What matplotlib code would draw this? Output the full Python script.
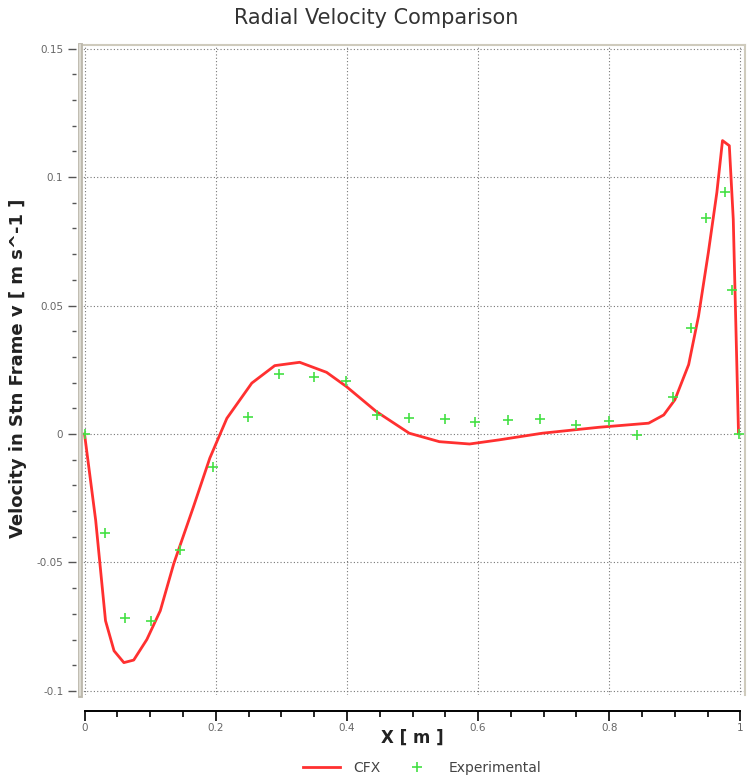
import matplotlib

matplotlib.use("Agg")
import matplotlib.pyplot as plt
from matplotlib.lines import Line2D
from matplotlib.ticker import MultipleLocator

# CFX solution
cfx_x = [0.0, 0.017, 0.032, 0.045, 0.060, 0.075, 0.095, 0.1155, 0.136, 0.166,
         0.191, 0.217, 0.255, 0.290, 0.328, 0.369, 0.399, 0.445, 0.495, 0.541,
         0.587, 0.632, 0.698, 0.784, 0.860, 0.883, 0.900, 0.921, 0.936, 0.951,
         0.964, 0.9726, 0.983, 0.989, 0.997]
cfx_v = [0.0, -0.0336, -0.0727, -0.0844, -0.0890, -0.0880, -0.0800, -0.0688,
         -0.0505, -0.0284, -0.0094, 0.0061, 0.0198, 0.0266, 0.0279, 0.0240,
         0.0185, 0.0087, 0.0003, -0.0030, -0.0039, -0.0023, 0.0003, 0.0026,
         0.0042, 0.0074, 0.0133, 0.0270, 0.0458, 0.0706, 0.0940, 0.1142,
         0.1122, 0.0836, 0.0003]

# Experimental points
exp_x = [0.0, 0.031, 0.061, 0.102, 0.146, 0.196, 0.249, 0.297, 0.350, 0.398,
         0.446, 0.494, 0.549, 0.595, 0.646, 0.694, 0.749, 0.800, 0.843, 0.897,
         0.925, 0.947, 0.976, 0.987, 0.998]
exp_v = [0.0, -0.0384, -0.0716, -0.0727, -0.0450, -0.0130, 0.0065, 0.0233,
         0.0221, 0.0208, 0.0074, 0.0064, 0.0060, 0.0047, 0.0053, 0.0060,
         0.0034, 0.0049, -0.0003, 0.0143, 0.0413, 0.0841, 0.0943, 0.0559, 0.0]

x_ticks = [0, 0.2, 0.4, 0.6, 0.8, 1]
x_ticklabels = ["0", "0.2", "0.4", "0.6", "0.8", "1"]
y_ticks = [-0.1, -0.05, 0, 0.05, 0.1, 0.15]
y_ticklabels = ["-0.1", "-0.05", "0", "0.05", "0.1", "0.15"]

fig = plt.figure(figsize=(7.5, 7.83), dpi=100)
ax = fig.add_axes([80 / 750, 1 - 695 / 783, 665 / 750, 650 / 783])

ax.plot(cfx_x, cfx_v, color="#ff3030", lw=2.0, label="CFX", zorder=3)
ax.plot(exp_x, exp_v, ls="none", marker="+", ms=6.5, mew=1.2,
        color="#44e044", label="Experimental", zorder=4)

ax.set_xlim(-0.0069, 1.0069)
ax.set_ylim(-0.1016, 0.1514)

ax.set_xticks(x_ticks, x_ticklabels)
ax.set_yticks(y_ticks, y_ticklabels)
ax.xaxis.set_minor_locator(MultipleLocator(0.05))
ax.yaxis.set_minor_locator(MultipleLocator(0.01))

ax.grid(True, which="major", color="#777777", ls=(0, (1, 2)), lw=0.8)

frame_col = "#cfcbbd"
ax.spines["top"].set_color(frame_col)
ax.spines["top"].set_linewidth(1.5)
ax.spines["right"].set_color(frame_col)
ax.spines["right"].set_linewidth(1.5)
ax.spines["left"].set_position(("outward", 3))
ax.spines["left"].set_visible(False)
ax.spines["bottom"].set_position(("outward", 11.5))
ax.spines["bottom"].set_bounds(0, 1)
ax.spines["bottom"].set_linewidth(1.4)

# grey double bar on the left edge
ax.add_line(Line2D([0, 0], [0, 1], transform=ax.transAxes, color="#bdb9ad",
                   lw=3.5, clip_on=False, zorder=5))
ax.add_line(Line2D([0, 0], [0, 1], transform=ax.transAxes, color="#e4e2da",
                   lw=1.2, clip_on=False, zorder=6))

ax.tick_params(axis="y", which="major", direction="out", length=6, width=1,
               color="#555555", labelsize=7.5, labelcolor="#666666", pad=3)
ax.tick_params(axis="y", which="minor", direction="out", length=3, width=1,
               color="#555555")
ax.tick_params(axis="x", which="major", direction="out", length=7, width=1.2,
               labelsize=7.5, labelcolor="#666666", pad=2)
ax.tick_params(axis="x", which="minor", direction="out", length=4, width=1.2)

fig.text(376 / 750, 1 - 18 / 783, "Radial Velocity Comparison", ha="center",
         va="center", fontsize=15, color="#333333")
fig.text(412 / 750, 1 - 738 / 783, "X [ m ]", ha="center", va="center",
         fontsize=12, fontweight="bold", color="#222222")
fig.text(18 / 750, 1 - 368 / 783, "Velocity in Stn Frame v [ m s^-1 ]",
         rotation=90, ha="center", va="center", fontsize=13,
         fontweight="bold", color="#222222")

fig.legend(loc="center", bbox_to_anchor=(422 / 750, 1 - 768 / 783), ncol=2,
           frameon=False, fontsize=10, handlelength=2.7, columnspacing=1.3,
           handletextpad=0.9, labelcolor="#444444")

fig.savefig("out.png", dpi=100)
